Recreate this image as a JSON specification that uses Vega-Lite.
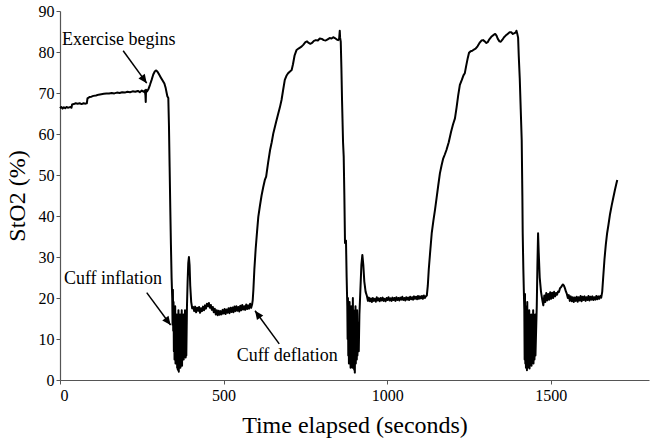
{
  "$schema": "https://vega.github.io/schema/vega-lite/v6.json",
  "width": 589,
  "height": 369,
  "autosize": {"type": "none"},
  "padding": {"left": 60, "top": 11, "right": 1, "bottom": 63},
  "background": "white",
  "config": {
    "view": {"stroke": null},
    "axis": {
      "grid": false,
      "labelFont": "Liberation Serif",
      "labelFontSize": 16,
      "labelColor": "#000",
      "titleFont": "Liberation Serif",
      "titleFontSize": 24,
      "titleFontWeight": "normal",
      "titleColor": "#000",
      "domainColor": "#555",
      "tickColor": "#555",
      "domainWidth": 1.2,
      "tickSize": 4
    }
  },
  "datasets": {
    "trace": [
      {"t":0,"v":66.3},{"t":4,"v":66.6},{"t":8,"v":66.2},{"t":12,"v":66.5},{"t":16,"v":66.3},{"t":20,"v":66.6},{"t":24,"v":66.4},{"t":28,"v":66.5},{"t":32,"v":66.6},{"t":35,"v":66.4},{"t":37,"v":67.2},{"t":42,"v":67.3},{"t":48,"v":67.5},{"t":54,"v":67.4},{"t":60,"v":67.5},{"t":66,"v":67.3},{"t":72,"v":67.5},{"t":78,"v":67.4},{"t":82,"v":67.5},{"t":84,"v":68.7},{"t":90,"v":69.0},{"t":96,"v":69.1},{"t":102,"v":69.3},{"t":110,"v":69.4},{"t":118,"v":69.6},{"t":126,"v":69.7},{"t":134,"v":69.8},{"t":142,"v":69.9},{"t":150,"v":69.9},{"t":158,"v":70.0},{"t":166,"v":69.9},{"t":174,"v":70.1},{"t":182,"v":70.0},{"t":190,"v":70.2},{"t":198,"v":70.1},{"t":206,"v":70.3},{"t":214,"v":70.2},{"t":222,"v":70.4},{"t":230,"v":70.3},{"t":238,"v":70.5},{"t":244,"v":70.2},{"t":250,"v":70.6},{"t":255,"v":70.3},{"t":259,"v":70.6},{"t":261,"v":69.5},{"t":262,"v":67.8},{"t":263,"v":70.8},{"t":266,"v":70.4},{"t":270,"v":70.9},{"t":275,"v":72.0},{"t":280,"v":73.2},{"t":285,"v":74.5},{"t":290,"v":75.3},{"t":294,"v":75.5},{"t":298,"v":75.2},{"t":303,"v":74.5},{"t":308,"v":73.8},{"t":314,"v":73.0},{"t":319,"v":72.3},{"t":323,"v":71.2},{"t":326,"v":70.0},{"t":328,"v":69.2},{"t":331,"v":68.8},{"t":333,"v":62},{"t":335,"v":52},{"t":337,"v":42},{"t":339,"v":33},{"t":341,"v":25},{"t":343,"v":20},{"t":344,"v":13.5},
      {"t":345,"v":22},{"t":346,"v":12},{"t":347,"v":19},{"t":348,"v":7},{"t":349,"v":17},{"t":350,"v":5},{"t":352,"v":18},{"t":353,"v":4},{"t":354,"v":15},{"t":355,"v":6},{"t":357,"v":16},{"t":358,"v":3},{"t":359,"v":14},{"t":360,"v":2.5},{"t":362,"v":17},{"t":363,"v":2},{"t":364,"v":13},{"t":365,"v":4},{"t":367,"v":16},{"t":368,"v":3},{"t":369,"v":15},{"t":370,"v":5},{"t":372,"v":17},{"t":373,"v":3.5},{"t":374,"v":14},{"t":376,"v":6},{"t":377,"v":16},{"t":378,"v":5},{"t":380,"v":15},{"t":381,"v":6},{"t":382,"v":17},{"t":384,"v":5.5},{"t":385,"v":14},{"t":386,"v":6},{"t":388,"v":18},{"t":390,"v":24},{"t":392,"v":28.5},{"t":394,"v":30},{"t":396,"v":28},{"t":398,"v":23},{"t":401,"v":19},{"t":404,"v":17.5},{"t":407,"v":17.8},
      {"t":410,"v":16.8},{"t":413,"v":17.9},{"t":416,"v":16.5},{"t":419,"v":17.6},{"t":422,"v":16.9},{"t":425,"v":17.8},{"t":428,"v":16.4},{"t":431,"v":17.5},{"t":434,"v":16.8},{"t":437,"v":17.9},{"t":440,"v":17.0},{"t":443,"v":18.2},{"t":446,"v":17.4},{"t":449,"v":18.6},{"t":452,"v":18.0},{"t":455,"v":18.8},{"t":458,"v":17.6},{"t":461,"v":18.3},{"t":464,"v":17.1},{"t":467,"v":17.8},{"t":470,"v":16.5},{"t":473,"v":17.4},{"t":476,"v":16.0},{"t":479,"v":17.0},{"t":482,"v":15.8},{"t":485,"v":16.9},{"t":488,"v":15.9},{"t":491,"v":16.8},{"t":494,"v":16.0},{"t":497,"v":17.1},{"t":500,"v":16.2},{"t":503,"v":17.3},{"t":506,"v":16.1},{"t":509,"v":17.2},{"t":512,"v":16.4},{"t":515,"v":17.5},{"t":518,"v":16.3},{"t":521,"v":17.6},{"t":524,"v":16.6},{"t":527,"v":17.7},{"t":530,"v":16.5},{"t":533,"v":17.9},{"t":536,"v":16.8},{"t":539,"v":18.0},{"t":542,"v":16.9},{"t":545,"v":17.8},{"t":548,"v":16.7},{"t":551,"v":18.1},{"t":554,"v":17.0},{"t":557,"v":18.3},{"t":560,"v":17.2},{"t":563,"v":18.0},{"t":566,"v":17.1},{"t":569,"v":18.4},{"t":572,"v":17.3},{"t":575,"v":18.2},{"t":578,"v":17.4},{"t":581,"v":18.6},{"t":584,"v":17.6},{"t":587,"v":18.4},
      {"t":589,"v":19.5},{"t":591,"v":22},{"t":594,"v":27},{"t":598,"v":32},{"t":602,"v":36},{"t":606,"v":39.8},{"t":611,"v":42.5},{"t":616,"v":45},{"t":621,"v":47},{"t":626,"v":48.8},{"t":630,"v":49.6},{"t":636,"v":53},{"t":642,"v":56.1},{"t":647,"v":58},{"t":652,"v":60.2},{"t":660,"v":62.8},{"t":667,"v":65},{"t":672,"v":66.5},{"t":677,"v":68.3},{"t":682,"v":70.8},{"t":687,"v":73.2},{"t":692,"v":74.2},{"t":697,"v":74.8},{"t":702,"v":75.2},{"t":708,"v":75.6},{"t":712,"v":77},{"t":717,"v":79.2},{"t":723,"v":80.5},{"t":730,"v":80.9},{"t":738,"v":81.3},{"t":744,"v":81.8},{"t":750,"v":82.4},{"t":755,"v":82.6},{"t":760,"v":82.2},{"t":765,"v":82.0},{"t":770,"v":82.2},{"t":776,"v":82.7},{"t":782,"v":82.9},{"t":788,"v":82.8},{"t":794,"v":83.3},{"t":800,"v":83.2},{"t":806,"v":82.9},{"t":812,"v":82.8},{"t":818,"v":83.1},{"t":824,"v":83.4},{"t":830,"v":83.3},{"t":835,"v":83.6},{"t":840,"v":83.4},{"t":845,"v":83.1},{"t":850,"v":82.9},{"t":853,"v":83.2},{"t":855,"v":85.2},{"t":856,"v":83.5},{"t":858,"v":82.5},{"t":860,"v":76},{"t":862,"v":68},{"t":865,"v":58},{"t":867,"v":54.5},{"t":869,"v":45},{"t":871,"v":33.4},{"t":874,"v":34},{"t":876,"v":25},{"t":878,"v":18},{"t":879,"v":10},
      {"t":880,"v":20},{"t":881,"v":6},{"t":882,"v":17},{"t":883,"v":4},{"t":885,"v":19},{"t":886,"v":5},{"t":887,"v":16},{"t":888,"v":3},{"t":890,"v":18},{"t":891,"v":4.5},{"t":892,"v":15},{"t":894,"v":3},{"t":895,"v":20},{"t":896,"v":5},{"t":897,"v":17},{"t":899,"v":2.5},{"t":900,"v":16},{"t":901,"v":1.8},{"t":903,"v":18},{"t":904,"v":4},{"t":905,"v":15},{"t":907,"v":5},{"t":908,"v":17},{"t":909,"v":6},{"t":911,"v":14},{"t":913,"v":7},{"t":915,"v":16},{"t":918,"v":22},{"t":921,"v":28},{"t":924,"v":30.5},{"t":927,"v":28},{"t":930,"v":24},{"t":934,"v":21.5},{"t":938,"v":20.5},
      {"t":941,"v":19.3},{"t":944,"v":20.1},{"t":947,"v":19.2},{"t":950,"v":19.9},{"t":953,"v":19.0},{"t":956,"v":20.0},{"t":959,"v":19.3},{"t":962,"v":19.8},{"t":965,"v":19.1},{"t":968,"v":20.2},{"t":971,"v":19.4},{"t":974,"v":19.9},{"t":977,"v":19.2},{"t":980,"v":20.0},{"t":983,"v":19.4},{"t":986,"v":20.1},{"t":989,"v":19.3},{"t":992,"v":19.8},{"t":995,"v":19.2},{"t":998,"v":20.0},{"t":1001,"v":19.5},{"t":1004,"v":20.2},{"t":1007,"v":19.4},{"t":1010,"v":19.9},{"t":1013,"v":19.3},{"t":1016,"v":20.1},{"t":1019,"v":19.5},{"t":1022,"v":20.0},{"t":1025,"v":19.3},{"t":1028,"v":20.2},{"t":1031,"v":19.5},{"t":1034,"v":20.0},{"t":1037,"v":19.4},{"t":1040,"v":20.1},{"t":1043,"v":19.6},{"t":1046,"v":20.3},{"t":1049,"v":19.5},{"t":1052,"v":20.0},{"t":1055,"v":19.4},{"t":1058,"v":20.2},{"t":1061,"v":19.6},{"t":1064,"v":20.1},{"t":1067,"v":19.5},{"t":1070,"v":20.3},{"t":1073,"v":19.7},{"t":1076,"v":20.2},{"t":1079,"v":19.6},{"t":1082,"v":20.4},{"t":1085,"v":19.8},{"t":1088,"v":20.3},{"t":1091,"v":19.7},{"t":1094,"v":20.5},{"t":1097,"v":19.8},{"t":1100,"v":20.4},{"t":1103,"v":19.9},{"t":1106,"v":20.5},{"t":1109,"v":19.8},{"t":1112,"v":20.6},{"t":1115,"v":20.0},{"t":1118,"v":20.4},
      {"t":1121,"v":20.6},{"t":1124,"v":23},{"t":1127,"v":27},{"t":1131,"v":31},{"t":1136,"v":35.8},{"t":1141,"v":38.8},{"t":1146,"v":41.5},{"t":1151,"v":44.5},{"t":1156,"v":47.5},{"t":1161,"v":50.4},{"t":1166,"v":52.3},{"t":1171,"v":54},{"t":1176,"v":55},{"t":1181,"v":56.1},{"t":1188,"v":58},{"t":1195,"v":60.5},{"t":1201,"v":62.3},{"t":1207,"v":63.8},{"t":1212,"v":66.5},{"t":1217,"v":69.5},{"t":1222,"v":72},{"t":1228,"v":73.2},{"t":1233,"v":74.3},{"t":1237,"v":74.8},{"t":1241,"v":76.5},{"t":1246,"v":78.5},{"t":1250,"v":79.8},{"t":1255,"v":80.2},{"t":1260,"v":80.3},{"t":1265,"v":80.6},{"t":1270,"v":80.8},{"t":1276,"v":81.4},{"t":1282,"v":82.2},{"t":1288,"v":82.8},{"t":1293,"v":82.9},{"t":1298,"v":82.6},{"t":1303,"v":82.2},{"t":1307,"v":82.4},{"t":1312,"v":83.1},{"t":1318,"v":83.7},{"t":1324,"v":84.1},{"t":1330,"v":84.4},{"t":1334,"v":84.0},{"t":1338,"v":83.2},{"t":1343,"v":82.6},{"t":1347,"v":82.5},{"t":1352,"v":83.0},{"t":1357,"v":83.6},{"t":1362,"v":84.0},{"t":1368,"v":84.4},{"t":1374,"v":84.8},{"t":1379,"v":84.8},{"t":1384,"v":84.4},{"t":1389,"v":84.6},{"t":1393,"v":84.8},{"t":1395,"v":85.2},{"t":1397,"v":84.6},{"t":1400,"v":83.5},{"t":1402,"v":79},{"t":1405,"v":73.6},{"t":1408,"v":66},{"t":1411,"v":58.5},{"t":1413,"v":45},{"t":1414,"v":36},{"t":1416,"v":27},{"t":1418,"v":20},
      {"t":1419,"v":17},{"t":1420,"v":5},{"t":1421,"v":21},{"t":1422,"v":4},{"t":1423,"v":18},{"t":1424,"v":3},{"t":1426,"v":16},{"t":1427,"v":2.4},{"t":1428,"v":19},{"t":1429,"v":3},{"t":1431,"v":15},{"t":1432,"v":4},{"t":1434,"v":17},{"t":1435,"v":2.8},{"t":1437,"v":14},{"t":1438,"v":5},{"t":1440,"v":16},{"t":1441,"v":3.5},{"t":1443,"v":15},{"t":1444,"v":4.5},{"t":1446,"v":17},{"t":1447,"v":4},{"t":1449,"v":14},{"t":1450,"v":5},{"t":1452,"v":16},{"t":1453,"v":6},{"t":1455,"v":12},{"t":1457,"v":18},{"t":1459,"v":28},{"t":1461,"v":35.8},{"t":1463,"v":31},{"t":1466,"v":25},{"t":1470,"v":21.5},{"t":1474,"v":19.5},
      {"t":1477,"v":18.2},{"t":1480,"v":20.6},{"t":1483,"v":19.0},{"t":1486,"v":21.2},{"t":1489,"v":19.4},{"t":1492,"v":21.0},{"t":1495,"v":19.6},{"t":1498,"v":21.4},{"t":1501,"v":19.8},{"t":1504,"v":21.3},{"t":1507,"v":20.0},{"t":1510,"v":21.5},{"t":1513,"v":20.4},{"t":1516,"v":21.2},{"t":1519,"v":20.8},{"t":1522,"v":21.6},{"t":1525,"v":21.5},{"t":1528,"v":22.4},{"t":1531,"v":22.6},{"t":1534,"v":23.0},{"t":1537,"v":23.3},{"t":1540,"v":23.0},{"t":1543,"v":22.4},{"t":1546,"v":21.6},{"t":1549,"v":21.0},{"t":1552,"v":20.0},{"t":1555,"v":20.7},{"t":1558,"v":19.3},{"t":1561,"v":20.4},{"t":1564,"v":19.2},{"t":1567,"v":20.2},{"t":1570,"v":19.0},{"t":1573,"v":20.1},{"t":1576,"v":19.3},{"t":1579,"v":20.3},{"t":1582,"v":19.1},{"t":1585,"v":20.2},{"t":1588,"v":19.4},{"t":1591,"v":20.5},{"t":1594,"v":19.2},{"t":1597,"v":20.3},{"t":1600,"v":19.5},{"t":1603,"v":20.4},{"t":1606,"v":19.3},{"t":1609,"v":20.2},{"t":1612,"v":19.5},{"t":1615,"v":20.5},{"t":1618,"v":19.4},{"t":1621,"v":20.3},{"t":1624,"v":19.6},{"t":1627,"v":20.4},{"t":1630,"v":19.5},{"t":1633,"v":20.2},{"t":1636,"v":19.6},{"t":1639,"v":20.5},{"t":1642,"v":19.7},{"t":1645,"v":20.4},{"t":1648,"v":19.8},{"t":1651,"v":20.5},{"t":1654,"v":20.1},
      {"t":1657,"v":21.5},{"t":1660,"v":25},{"t":1664,"v":29.5},{"t":1668,"v":33},{"t":1672,"v":35.8},{"t":1676,"v":37.8},{"t":1681,"v":40.5},{"t":1686,"v":42.6},{"t":1691,"v":44.5},{"t":1696,"v":46.4},{"t":1700,"v":47.8},{"t":1703,"v":48.8}
    ],
    "notes": [
      {"label":"Exercise begins","tx":6,"ty":82.9,"x1":193,"y1":80.3,"x2":265,"y2":72.4},
      {"label":"Cuff inflation","tx":12,"ty":24.6,"x1":265,"y1":21.3,"x2":338,"y2":13.4},
      {"label":"Cuff deflation","tx":540,"ty":5.85,"x1":670,"y1":8.8,"x2":596,"y2":16.9}
    ]
  },
  "layer": [
    {
      "data": {"name": "trace"},
      "mark": {"type": "line", "color": "#000", "strokeWidth": 2, "strokeJoin": "round"},
      "encoding": {
        "x": {"field": "t", "type": "quantitative", "scale": {"domain": [0, 1800], "nice": false},
              "axis": {"values": [0, 500, 1000, 1500], "format": "d", "title": "Time elapsed (seconds)", "titlePadding": 10, "labelPadding": 3, "labelFont": "Liberation Serif", "labelFontSize": 16, "titleFont": "Liberation Serif"}},
        "y": {"field": "v", "type": "quantitative", "scale": {"domain": [0, 90], "nice": false},
              "axis": {"values": [0, 10, 20, 30, 40, 50, 60, 70, 80, 90], "format": "d", "title": "StO2 (%)", "titlePadding": 9, "labelPadding": 2, "labelFont": "Liberation Serif", "labelFontSize": 16, "titleFont": "Liberation Serif"}}
      }
    },
    {
      "data": {"name": "notes"},
      "mark": {"type": "text", "font": "Liberation Serif", "fontSize": 18, "align": "left", "baseline": "middle", "color": "#000"},
      "encoding": {
        "x": {"field": "tx", "type": "quantitative"},
        "y": {"field": "ty", "type": "quantitative"},
        "text": {"field": "label"}
      }
    },
    {
      "data": {"name": "notes"},
      "mark": {"type": "rule", "color": "#000", "strokeWidth": 1.5},
      "encoding": {
        "x": {"field": "x1", "type": "quantitative"},
        "y": {"field": "y1", "type": "quantitative"},
        "x2": {"field": "x2"},
        "y2": {"field": "y2"}
      }
    },
    {
      "data": {"name": "notes"},
      "transform": [{"filter": "datum.label === 'Exercise begins'"}],
      "mark": {"type": "point", "shape": "M0,0 L-0.45,1 L0.45,1 Z", "filled": true, "color": "#000", "opacity": 1, "size": 300, "angle": 144},
      "encoding": {"x": {"field": "x2", "type": "quantitative"}, "y": {"field": "y2", "type": "quantitative"}}
    },
    {
      "data": {"name": "notes"},
      "transform": [{"filter": "datum.label === 'Cuff inflation'"}],
      "mark": {"type": "point", "shape": "M0,0 L-0.45,1 L0.45,1 Z", "filled": true, "color": "#000", "opacity": 1, "size": 300, "angle": 143},
      "encoding": {"x": {"field": "x2", "type": "quantitative"}, "y": {"field": "y2", "type": "quantitative"}}
    },
    {
      "data": {"name": "notes"},
      "transform": [{"filter": "datum.label === 'Cuff deflation'"}],
      "mark": {"type": "point", "shape": "M0,0 L-0.45,1 L0.45,1 Z", "filled": true, "color": "#000", "opacity": 1, "size": 300, "angle": 324},
      "encoding": {"x": {"field": "x2", "type": "quantitative"}, "y": {"field": "y2", "type": "quantitative"}}
    }
  ]
}
